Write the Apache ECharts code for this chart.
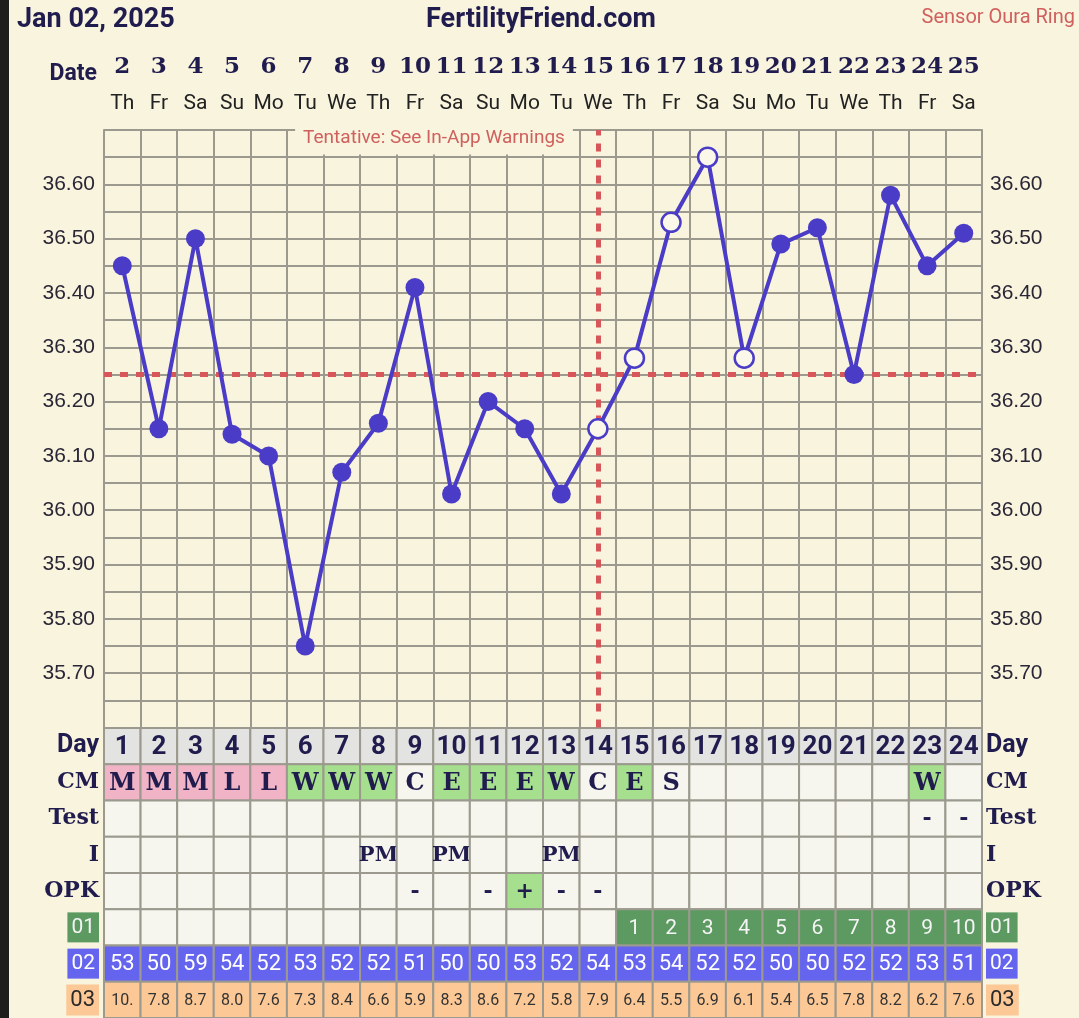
<!DOCTYPE html>
<html>
<head>
<meta charset="utf-8">
<script src="https://cdn.jsdelivr.net/npm/echarts@6/dist/echarts.min.js"></script>
<style>
  html, body { margin: 0; padding: 0; background: #f8f4de; }
  #chart { width: 1079px; height: 1018px; }
</style>
</head>
<body>
<div id="chart"></div>
<script>
// dates of the chart (Jan 2 .. Jan 25)
const dates = ["2","3","4","5","6","7","8","9","10","11","12","13","14","15","16","17","18","19","20","21","22","23","24","25"];
const weekdays = ["Th","Fr","Sa","Su","Mo","Tu","We","Th","Fr","Sa","Su","Mo","Tu","We","Th","Fr","Sa","Su","Mo","Tu","We","Th","Fr","Sa"];
// temperatures (°C)
const temps = [36.45, 36.15, 36.50, 36.14, 36.10, 35.75, 36.07, 36.16, 36.41, 36.03, 36.20, 36.15,
  36.03, 36.15, 36.28, 36.53, 36.65, 36.28, 36.49, 36.52, 36.25, 36.58, 36.45, 36.51];
// 1 = hollow point
const hollow = [0,0,0,0,0,0,0,0,0,0,0,0,0,1,1,1,1,1,0,0,0,0,0,0];
const coverline = 36.25;
const ovulationDate = "15";

// table rows
const rowLabels = ["Day", "CM", "Test", "I", "OPK", "01", "02", "03"];
const cycleDays = ["1","2","3","4","5","6","7","8","9","10","11","12","13","14","15","16","17","18","19","20","21","22","23","24"];
const cm = ["M","M","M","L","L","W","W","W","C","E","E","E","W","C","E","S","","","","","","","W",""];
const test = ["","","","","","","","","","","","","","","","","","","","","","","-","-"];
const intercourse = ["","","","","","","","PM","","PM","","","PM","","","","","","","","","","",""];
const opk = ["","","","","","","","","-","","-","+","-","-","","","","","","","","","",""];
const row01 = ["","","","","","","","","","","","","","","1","2","3","4","5","6","7","8","9","10"];
const row02 = ["53","50","59","54","52","53","52","52","51","50","50","53","52","54","53","54","52","52","50","50","52","52","53","51"];
const row03 = ["10.","7.8","8.7","8.0","7.6","7.3","8.4","6.6","5.9","8.3","8.6","7.2","5.8","7.9","6.4","5.5","6.9","6.1","5.4","6.5","7.8","8.2","6.2","7.6"];

const NAVY = "#211c4e";
const GRIDLINE = "#9c9a8e";
const LINE = "#4a3cc6";
const RED = "#d6565a";
const SLAB = "'DejaVu Serif', serif";
const SANS = "Roboto, 'Noto Sans', sans-serif";

const tableRows = [cycleDays, cm, test, intercourse, opk, row01, row02, row03];
const cells = [];
tableRows.forEach((row, r) => row.forEach((text, c) => cells.push({ row: r, col: c, text })));

// cell look per row
function cellStyle(cell) {
  const t = cell.text;
  let fill = "#f6f6ef";
  let font = { fontFamily: SLAB, fontWeight: "bold", fontSize: 22, fill: NAVY };
  switch (cell.row) {
    case 0:
      fill = "#e3e3e1";
      font = { fontFamily: SANS, fontWeight: "bold", fontSize: 26, fill: NAVY };
      break;
    case 1:
      if (t === "M" || t === "L") fill = "#f0b4c6";
      else if (t === "W" || t === "E") fill = "#a6e08e";
      font.fontSize = 24;
      break;
    case 3:
      font.fontSize = 21;
      break;
    case 4:
      if (t === "+") fill = "#a6e08e";
      break;
    case 5:
      if (t) fill = "#5c9a62";
      font = { fontFamily: SANS, fontWeight: "normal", fontSize: 21, fill: "#f4f4f4" };
      break;
    case 6:
      fill = "#6464ee";
      font = { fontFamily: SANS, fontWeight: "normal", fontSize: 22, fill: "#ffffff" };
      break;
    case 7:
      fill = "#fcc896";
      font = { fontFamily: SANS, fontWeight: "normal", fontSize: 16, fill: "#333333" };
      break;
  }
  return { fill, font };
}

const labelRich = {
  day: { fontFamily: SANS, fontWeight: "bold", fontSize: 25, color: NAVY },
  slab: { fontFamily: SLAB, fontWeight: "bold", fontSize: 22, color: NAVY },
  g: { fontFamily: SANS, fontSize: 21, color: "#f4f4f4", backgroundColor: "#5c9a62", padding: [5, 4, 4, 4] },
  b: { fontFamily: SANS, fontSize: 21, color: "#ffffff", backgroundColor: "#6464ee", padding: [5, 4, 4, 4] },
  p: { fontFamily: SANS, fontSize: 22, color: "#2a2a2a", backgroundColor: "#fcc896", padding: [5, 4, 4, 4] }
};
function rowLabel(v) {
  const key = v === "Day" ? "day" : v === "01" ? "g" : v === "02" ? "b" : v === "03" ? "p" : "slab";
  return "{" + key + "|" + v + "}";
}

const tempLabel = (v) => {
  const k = Math.round(v * 100);
  return k % 10 === 0 && k >= 3570 && k <= 3660 ? (k / 100).toFixed(2) : "";
};

const chart = echarts.init(document.getElementById("chart"), null, { renderer: "canvas" });

const option = {
  animation: false,
  backgroundColor: "#f8f4de",
  grid: [
    { left: 104, top: 130, width: 878, height: 597.5 },
    { left: 104, top: 728, width: 878, height: 292.8 }
  ],
  xAxis: [
    {
      gridIndex: 0, type: "category", data: dates, boundaryGap: true,
      axisLine: { show: false }, axisTick: { show: false }, axisLabel: { show: false },
      splitLine: { show: true, interval: 0, lineStyle: { color: GRIDLINE, width: 2 } }
    },
    {
      gridIndex: 0, type: "category", data: dates, position: "top",
      axisLine: { show: false }, axisTick: { show: false }, splitLine: { show: false },
      axisLabel: { interval: 0, margin: 51, fontFamily: SLAB, fontWeight: "bold", fontSize: 23, color: NAVY }
    },
    {
      gridIndex: 0, type: "category", data: weekdays, position: "top",
      axisLine: { show: false }, axisTick: { show: false }, splitLine: { show: false },
      axisLabel: { interval: 0, margin: 16, fontFamily: SANS, fontSize: 21, color: "#222222" }
    },
    {
      gridIndex: 1, type: "category", data: cycleDays,
      axisLine: { show: false }, axisTick: { show: false }, axisLabel: { show: false }, splitLine: { show: false }
    }
  ],
  yAxis: [
    {
      gridIndex: 0, type: "value", min: 35.6, max: 36.7, interval: 0.05, position: "left",
      axisLine: { show: true, lineStyle: { color: GRIDLINE, width: 2 } }, axisTick: { show: false },
      axisLabel: { margin: 9, formatter: tempLabel, fontFamily: "'Liberation Sans', Arial, sans-serif", fontSize: 21, color: "#2a2636" },
      splitLine: { show: true, lineStyle: { color: GRIDLINE, width: 2 } }
    },
    {
      gridIndex: 0, type: "value", min: 35.6, max: 36.7, interval: 0.05, position: "right",
      axisLine: { show: true, lineStyle: { color: GRIDLINE, width: 2 } }, axisTick: { show: false },
      axisLabel: { margin: 8, formatter: tempLabel, fontFamily: "'Liberation Sans', Arial, sans-serif", fontSize: 21, color: "#2a2636" },
      splitLine: { show: false }
    },
    {
      gridIndex: 1, type: "category", data: rowLabels, inverse: true, position: "left",
      axisLine: { show: false }, axisTick: { show: false }, splitLine: { show: false },
      axisLabel: { interval: 0, margin: 5, formatter: rowLabel, rich: labelRich }
    },
    {
      gridIndex: 1, type: "category", data: rowLabels, inverse: true, position: "right",
      axisLine: { show: false }, axisTick: { show: false }, splitLine: { show: false },
      axisLabel: { interval: 0, margin: 4, formatter: rowLabel, rich: labelRich }
    }
  ],
  series: [
    {
      type: "line",
      xAxisIndex: 0, yAxisIndex: 0,
      data: temps.map((v, i) => ({
        value: v,
        itemStyle: hollow[i]
          ? { color: "#fbf8ea", borderColor: LINE, borderWidth: 2.5 }
          : { color: LINE, borderColor: LINE, borderWidth: 0 }
      })),
      symbol: "circle",
      symbolSize: 19,
      showAllSymbol: true,
      lineStyle: { color: LINE, width: 4 },
      emphasis: { disabled: true },
      z: 5,
      markLine: {
        silent: true,
        symbol: "none",
        label: { show: false },
        lineStyle: { color: RED, width: 5, type: [8, 8] },
        data: [{ yAxis: coverline }, { xAxis: ovulationDate }]
      }
    },
    {
      type: "custom",
      xAxisIndex: 3, yAxisIndex: 2,
      data: cells.map((c) => [c.col, c.row]),
      renderItem(params, api) {
        const cell = cells[params.dataIndex];
        const p = api.coord([api.value(0), api.value(1)]);
        const s = api.size([1, 1]);
        const st = cellStyle(cell);
        return {
          type: "group",
          children: [
            {
              type: "rect",
              shape: { x: p[0] - s[0] / 2, y: p[1] - s[1] / 2, width: s[0], height: s[1] },
              style: { fill: st.fill, stroke: GRIDLINE, lineWidth: 2 }
            },
            {
              type: "text",
              style: Object.assign({ text: cell.text, x: p[0], y: p[1] + 1, align: "center", verticalAlign: "middle" }, st.font)
            }
          ]
        };
      }
    }
  ],
  graphic: [
    { type: "rect", shape: { x: 0, y: 0, width: 9, height: 1018 }, style: { fill: "#1e1e1c" } },
    {
      type: "text", x: 17, y: 20,
      style: { text: "Jan 02, 2025", fontFamily: SANS, fontWeight: "bold", fontSize: 27, fill: NAVY, verticalAlign: "middle" }
    },
    {
      type: "text", x: 541, y: 20,
      style: { text: "FertilityFriend.com", fontFamily: SANS, fontWeight: "bold", fontSize: 27, fill: NAVY, align: "center", verticalAlign: "middle" }
    },
    {
      type: "text", x: 1075, y: 18,
      style: { text: "Sensor Oura Ring", fontFamily: SANS, fontSize: 20, fill: "#d0605e", align: "right", verticalAlign: "middle" }
    },
    {
      type: "text", x: 97, y: 74,
      style: { text: "Date", fontFamily: SANS, fontWeight: "bold", fontSize: 23, fill: NAVY, align: "right", verticalAlign: "middle" }
    },
    {
      type: "text", x: 434, y: 138, z: 100,
      style: {
        text: "Tentative: See In-App Warnings", fontFamily: SANS, fontSize: 19, fill: "#d0605e",
        align: "center", verticalAlign: "middle", backgroundColor: "#f8f4de", padding: [6, 8, 8, 8]
      }
    }
  ]
};

chart.setOption(option);
</script>
</body>
</html>
